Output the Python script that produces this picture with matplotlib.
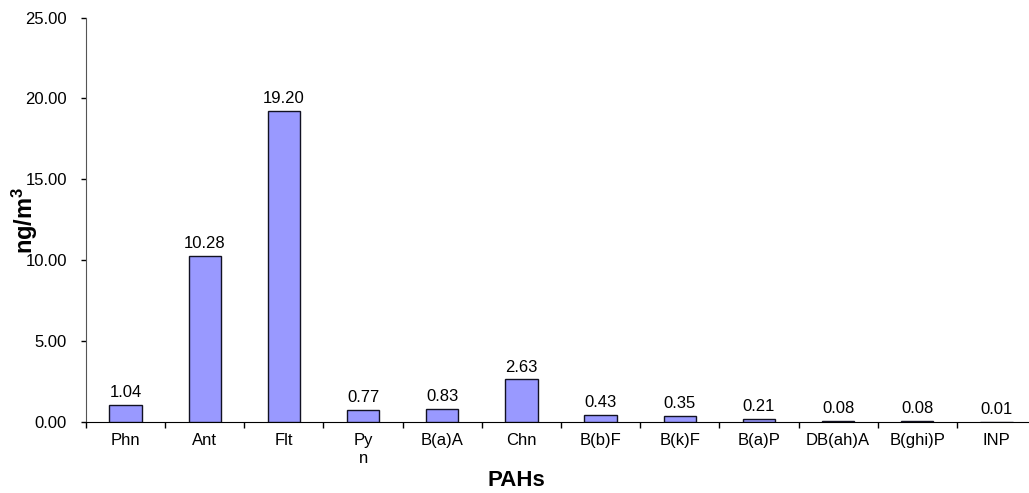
import matplotlib
matplotlib.use("Agg")
import matplotlib.pyplot as plt
import numpy as np

plt.rcParams['font.family'] = ['Liberation Sans', 'DejaVu Sans']
plt.rcParams['mathtext.fontset'] = 'custom'
plt.rcParams['mathtext.rm'] = 'Liberation Sans'
plt.rcParams['mathtext.bf'] = 'Liberation Sans:bold'

compounds = ["Phn", "Ant", "Flt", "Py\nn", "B(a)A", "Chn", "B(b)F", "B(k)F",
             "B(a)P", "DB(ah)A", "B(ghi)P", "INP"]
concentration = [1.04, 10.28, 19.20, 0.77, 0.83, 2.63, 0.43, 0.35, 0.21, 0.08, 0.08, 0.01]
y_ticks = [0, 5, 10, 15, 20, 25]

W, H = 1029, 493
fig = plt.figure(figsize=(W / 100, H / 100), dpi=100)
left, right, top, bottom = 86, 1036, 17.5, 422
ax = fig.add_axes([left / W, 1 - bottom / H, (right - left) / W, (bottom - top) / H])

x = np.arange(len(compounds))
ax.bar(x, concentration, width=0.41, color="#9999FF", edgecolor="#111122",
       linewidth=1.0, zorder=3)

for xi, v in zip(x, concentration):
    ax.annotate(f"{v:.2f}", (xi, v), xytext=(0, 3.5), textcoords="offset points",
                ha="center", va="bottom", fontsize=12)

ax.set_xlim(-0.5, len(compounds) - 0.5)
ax.set_ylim(0, 25)
ax.set_yticks(y_ticks)
ax.set_yticklabels([f"{t:.2f}" for t in y_ticks], fontsize=12)

ax.set_xticks(x)
ax.set_xticklabels(compounds, fontsize=12, va="top", linespacing=1.2)
ax.tick_params(axis="x", length=0, pad=8)
ax.set_xticks(np.arange(len(compounds) + 1) - 0.5, minor=True)
ax.tick_params(axis="x", which="minor", length=4.5, width=1, direction="out")
ax.tick_params(axis="y", length=3.6, width=1, direction="out", pad=10)

for s in ("top", "right"):
    ax.spines[s].set_visible(False)
ax.spines["left"].set_color("#555555")
ax.spines["bottom"].set_color("black")

fig.text(25 / W, 1 - 220 / H, r"$\mathbf{ng/m^{3}}$", rotation=90,
         ha="center", va="center", fontsize=17)
fig.text(516 / W, 1 - 481 / H, "PAHs", ha="center", va="center",
         fontsize=16, fontweight="bold")

fig.savefig("out.png", dpi=100)
